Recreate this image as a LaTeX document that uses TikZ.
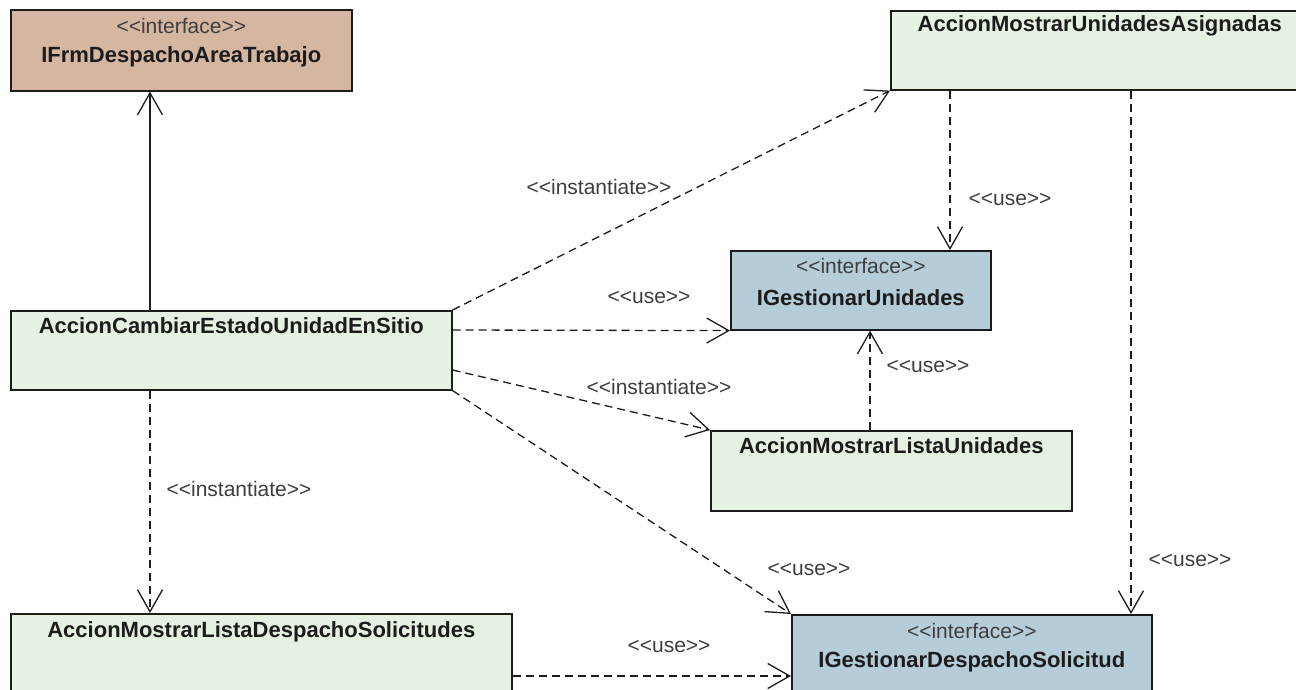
\documentclass[tikz,border=0pt]{standalone}
\usepackage{fontspec}
\setmainfont{Liberation Sans}
\usetikzlibrary{arrows.meta,calc}

\definecolor{clsgreen}{RGB}{229,242,225}
\definecolor{ifblue}{RGB}{181,205,216}
\definecolor{iftan}{RGB}{213,182,160}
\definecolor{edgegray}{RGB}{28,28,28}

% guillemet-free stereotype brackets (a kern keeps << from becoming a ligature)
\newcommand{\stlt}{<\kern0pt<}
\newcommand{\stgt}{>\kern0pt>}
\newcommand{\stereotype}[1]{\stlt#1\stgt}

\tikzset{
  umlbox/.style={draw=edgegray, line width=1.6pt, anchor=north west,
    inner sep=0pt, rectangle},
  classname/.style={font=\fontsize{22}{26}\selectfont\bfseries, text=edgegray,
    inner sep=0pt},
  stereo/.style={font=\fontsize{21}{25}\selectfont, text=edgegray!85,
    inner sep=0pt},
  deplabel/.style={font=\fontsize{21}{25}\selectfont, text=edgegray!85,
    inner sep=0pt},
  tip/.style={-{Straight Barb[length=22pt,width=25pt]}},
  assoc/.style={draw=edgegray, line width=1.3pt, tip},
  dep/.style={draw=edgegray, line width=1.3pt, dash pattern=on 8pt off 5pt, tip},
}

\begin{document}
\begin{tikzpicture}[x=1pt,y=-1pt]
  \useasboundingbox (0,0) rectangle (1296,689);
  \fill[white] (0,0) rectangle (1296,689);

  % ---- classes and interfaces ----
  \node[umlbox, fill=iftan, minimum width=341pt, minimum height=81pt]
    (ifrm) at (10,9) {};
  \node[stereo]    (ifrm-st) at ($(ifrm.north)+(0,17)$) {\stereotype{interface}};
  \node[classname] (ifrm-nm) at ($(ifrm.north)+(0,48)$) {IFrmDespachoAreaTrabajo};

  \node[umlbox, fill=clsgreen, minimum width=418pt, minimum height=79pt]
    (asignadas) at (890,10) {};
  \node[classname] (asignadas-nm) at ($(asignadas.north)+(0,16)$) {AccionMostrarUnidadesAsignadas};

  \node[umlbox, fill=clsgreen, minimum width=441pt, minimum height=79pt]
    (cambiar) at (10,310) {};
  \node[classname] (cambiar-nm) at ($(cambiar.north)+(0,16)$) {AccionCambiarEstadoUnidadEnSitio};

  \node[umlbox, fill=ifblue, minimum width=260pt, minimum height=79pt]
    (gunid) at (730,250) {};
  \node[stereo]    (gunid-st) at ($(gunid.north)+(0,16)$) {\stereotype{interface}};
  \node[classname] (gunid-nm) at ($(gunid.north)+(0,48)$) {IGestionarUnidades};

  \node[umlbox, fill=clsgreen, minimum width=361pt, minimum height=80pt]
    (listaunid) at (710,430) {};
  \node[classname] (listaunid-nm) at ($(listaunid.north)+(0,16)$) {AccionMostrarListaUnidades};

  \node[umlbox, fill=clsgreen, minimum width=501pt, minimum height=100pt]
    (listadesp) at (10,613) {};
  \node[classname] (listadesp-nm) at ($(listadesp.north)+(0,19)$) {AccionMostrarListaDespachoSolicitudes};

  \node[umlbox, fill=ifblue, minimum width=360pt, minimum height=100pt]
    (gdesp) at (791,614) {};
  \node[stereo]    (gdesp-st) at ($(gdesp.north)+(0,17)$) {\stereotype{interface}};
  \node[classname] (gdesp-nm) at ($(gdesp.north)+(0,48)$) {IGestionarDespachoSolicitud};

  % ---- relations ----
  \draw[assoc] ([xshift=140pt]cambiar.north west) -- ([xshift=140pt]ifrm.south west);

  \draw[dep] (cambiar.north east) -- (asignadas.south west);
  \node[deplabel] (l-inst1) at (599,187) {\stereotype{instantiate}};

  \draw[dep] ([yshift=-20pt]cambiar.north east) -- (gunid.south west);
  \node[deplabel] (l-use1) at (649,297) {\stereotype{use}};

  \draw[dep] ([yshift=-60pt]cambiar.north east) -- (listaunid.north west);
  \node[deplabel] (l-inst2) at (659,387) {\stereotype{instantiate}};

  \draw[dep] (cambiar.south east) -- (gdesp.north west);
  \node[deplabel] (l-use2) at (809,569) {\stereotype{use}};

  \draw[dep] ([xshift=140pt]cambiar.south west) -- ([xshift=140pt]listadesp.north west);
  \node[deplabel] (l-inst3) at (239,489) {\stereotype{instantiate}};

  \draw[dep] ([xshift=60pt]asignadas.south west) -- ([xshift=220pt]gunid.north west);
  \node[deplabel] (l-use3) at (1010,199) {\stereotype{use}};

  \draw[dep] ([xshift=241pt]asignadas.south west) -- ([xshift=340pt]gdesp.north west);
  \node[deplabel] (l-use4) at (1190,560) {\stereotype{use}};

  \draw[dep] ([xshift=160pt]listaunid.north west) -- ([xshift=140pt]gunid.south west);
  \node[deplabel] (l-use5) at (928,366) {\stereotype{use}};

  \draw[dep] ([yshift=-63pt]listadesp.north east) -- ([yshift=-62pt]gdesp.north west);
  \node[deplabel] (l-use6) at (669,646) {\stereotype{use}};
\end{tikzpicture}
\end{document}
